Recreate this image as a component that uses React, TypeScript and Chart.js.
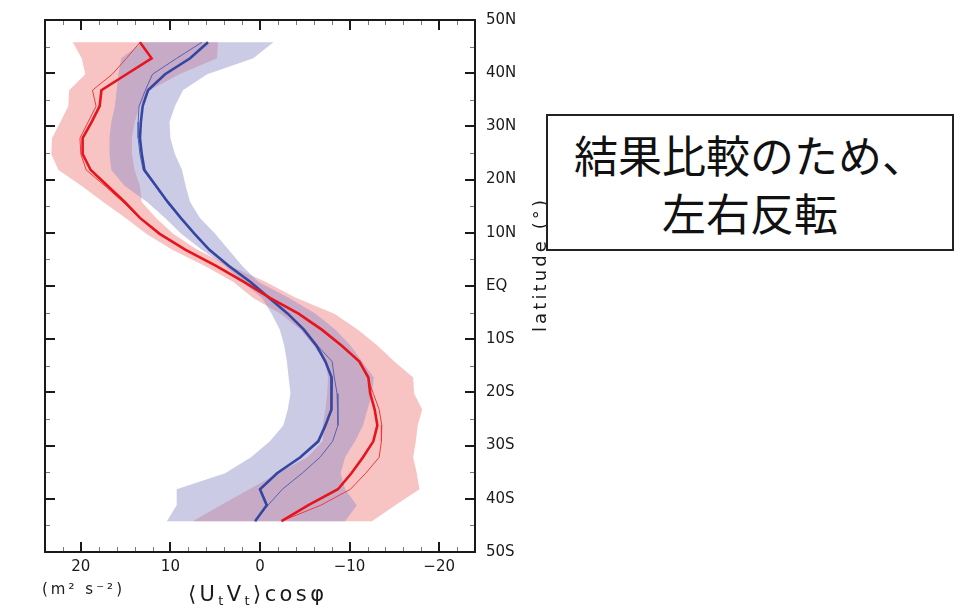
import React, { useEffect, useRef } from 'react';
import { Chart, registerables } from 'chart.js';

Chart.register(...registerables);

// ---- data ----
const latitudes = [45.8, 42.8, 39.8, 36.8, 33.8, 30.8, 27.8, 24.8, 21.8, 18.8, 15.8, 12.8, 9.8, 6.8, 3.8, 0.8, -2.2, -5.2, -8.2, -11.2, -14.2, -17.2, -20.2, -23.2, -26.2, -29.2, -32.2, -35.2, -38.2, -41.2, -44.2];

const redMean = [13.4, 12.1, 14.9, 17.7, 17.9, 18.8, 19.8, 19.8, 18.9, 17.0, 15.1, 13.4, 11.2, 8.3, 4.9, 1.85, -1.06, -4.3, -6.9, -9.1, -11.1, -12.1, -12.3, -12.8, -13.1, -12.65, -11.5, -10.2, -8.7, -5.4, -2.4];
const redThin = [13.4, 14.9, 16.5, 18.7, 18.3, 19.2, 20.1, 20.0, 19.4, 17.3, 15.3, 13.5, 11.2, 8.3, 4.9, 1.8, -1.0, -4.2, -6.8, -9.0, -11.0, -12.0, -12.65, -13.3, -13.6, -13.55, -13.3, -11.8, -10.1, -6.8, -2.4];
const blueMean = [5.8, 7.8, 10.6, 12.5, 13.1, 13.3, 13.4, 13.2, 12.9, 11.6, 10.3, 8.85, 7.3, 5.65, 3.5, 1.1, -1.0, -3.1, -4.9, -6.3, -7.3, -8.0, -8.0, -7.95, -7.3, -6.5, -4.5, -1.9, 0.0, -0.75, 0.55];
const blueThin = [6.5, 9.3, 12.0, 12.8, 13.5, 13.6, 13.6, 13.4, 13.05, 11.7, 10.4, 8.9, 7.3, 5.6, 3.5, 1.1, -1.0, -3.1, -4.9, -6.4, -8.05, -8.3, -8.6, -8.7, -8.7, -8.1, -6.7, -4.7, -2.5, -0.9, 0.55];

const redSpreadHigh = [20.9, 19.9, 19.5, 21.3, 21.4, 22.3, 23.2, 23.3, 22.5, 19.9, 17.5, 15.0, 12.7, 9.8, 6.2, 3.0, 0.8, -2.3, -4.5, -6.0, -7.3, -7.6, -7.5, -7.3, -7.0, -7.0, -5.3, -2.0, 1.2, 4.4, 7.5];
const redSpreadLow = [4.7, 4.8, 9.0, 12.3, 13.4, 14.0, 14.3, 14.3, 14.0, 13.4, 13.2, 11.6, 9.7, 7.0, 3.4, -0.6, -4.0, -8.3, -10.9, -13.1, -15.0, -17.1, -17.2, -18.1, -17.6, -17.4, -17.1, -17.5, -17.8, -15.1, -12.5];
const blueSpreadHigh = [13.1, 15.5, 15.8, 16.0, 16.2, 16.6, 16.8, 16.8, 16.6, 15.1, 12.6, 10.6, 8.8, 6.5, 3.9, 2.0, -0.2, -1.3, -2.2, -2.7, -3.0, -3.2, -3.4, -3.1, -2.6, -1.1, 1.0, 3.9, 9.3, 9.3, 10.4];
const blueSpreadLow = [-1.5, 0.75, 5.9, 8.6, 9.5, 10.1, 10.0, 9.5, 8.7, 8.3, 7.8, 6.7, 5.0, 3.5, 2.0, 0.2, -3.2, -6.2, -8.4, -10.1, -11.4, -12.7, -12.5, -12.0, -11.5, -10.6, -9.5, -9.0, -9.5, -10.8, -9.5];

const xTickValues = [-20, -10, 0, 10, 20];
const yTickValues = [50, 40, 30, 20, 10, 0, -10, -20, -30, -40, -50];

const xTitleChars: [string, boolean][] = [['⟨', false], ['U', false], ['t', true], ['V', false], ['t', true], ['⟩', false], ['c', false], ['o', false], ['s', false], ['φ', false]];
const unitText = '(m² s⁻²)';
const yTitleText = 'latitude (°)';
const noteLines = ['結果比較のため、', '左右反転'];

// ---- helpers ----
const profile = (vals: number[]) => vals.map((v, i) => ({ x: v, y: latitudes[i] }));
const band = (lo: number[], hi: number[]) => [...profile(lo), ...profile(hi).reverse()];

const FONT = '"DejaVu Sans", sans-serif';

function drawSpaced(ctx: CanvasRenderingContext2D, chars: [string, boolean][], cx: number, cy: number, size: number, total: number) {
  const widths = chars.map(([c, sub]) => {
    ctx.font = `${sub ? Math.round(size * 0.62) : size}px ${FONT}`;
    return ctx.measureText(c).width;
  });
  const natural = widths.reduce((a, b) => a + b, 0);
  const gap = chars.length > 1 ? Math.max(0, (total - natural) / (chars.length - 1)) : 0;
  let x = cx - (natural + gap * (chars.length - 1)) / 2;
  ctx.textAlign = 'left';
  ctx.textBaseline = 'middle';
  chars.forEach(([c, sub], i) => {
    ctx.font = `${sub ? Math.round(size * 0.62) : size}px ${FONT}`;
    ctx.fillText(c, x, sub ? cy + size * 0.28 : cy);
    x += widths[i] + gap;
  });
}

const framePlugin = {
  id: 'frameTicks',
  afterDatasetsDraw(chart: any) {
    const { ctx, chartArea } = chart;
    const { left, right, top, bottom } = chartArea;
    const xs = chart.scales.x;
    const ys = chart.scales.y;
    const seg = (x1: number, y1: number, x2: number, y2: number) => {
      ctx.beginPath();
      ctx.moveTo(x1, y1);
      ctx.lineTo(x2, y2);
      ctx.stroke();
    };
    ctx.save();
    // minor ticks
    ctx.strokeStyle = '#777';
    ctx.lineWidth = 1;
    for (let v = -24; v <= 24; v += 2) {
      if (v % 10 === 0) continue;
      const p = Math.round(xs.getPixelForValue(v)) + 0.5;
      seg(p, top, p, top + 5);
      seg(p, bottom, p, bottom - 5);
    }
    for (let v = -45; v <= 45; v += 10) {
      const p = Math.round(ys.getPixelForValue(v)) + 0.5;
      seg(left, p, left + 5, p);
      seg(right, p, right - 5, p);
    }
    // major ticks
    ctx.strokeStyle = '#1a1a1a';
    ctx.lineWidth = 2;
    for (const v of xTickValues) {
      const p = Math.round(xs.getPixelForValue(v));
      seg(p, top, p, top + 10);
      seg(p, bottom, p, bottom - 10);
    }
    for (const v of yTickValues) {
      const p = Math.round(ys.getPixelForValue(v));
      seg(left, p, left + 10, p);
      seg(right, p, right - 10, p);
    }
    ctx.lineWidth = 2;
    ctx.strokeRect(left, top, right - left, bottom - top);

    // titles
    ctx.fillStyle = '#1a1a1a';
    drawSpaced(ctx, xTitleChars, 256, 596, 21, 136);
    drawSpaced(ctx, unitText.split('').map((c) => [c, false] as [string, boolean]), 82, 590, 15, 80);
    ctx.save();
    ctx.translate(541, 266);
    ctx.rotate(-Math.PI / 2);
    drawSpaced(ctx, yTitleText.split('').map((c) => [c, false] as [string, boolean]), 0, 0, 18, 132);
    ctx.restore();
    ctx.restore();
  },
};

export default function App() {
  const canvasRef = useRef<HTMLCanvasElement | null>(null);

  useEffect(() => {
    const canvas = canvasRef.current;
    if (!canvas) return;
    const lineDs = (label: string, vals: number[], color: string, width: number, order: number) => ({
      label,
      data: profile(vals),
      borderColor: color,
      backgroundColor: color,
      borderWidth: width,
      pointRadius: 0,
      pointHoverRadius: 0,
      fill: false,
      tension: 0,
      order,
    });
    const chart = new Chart(canvas, {
      type: 'line',
      data: {
        datasets: [
          {
            label: 'red spread',
            data: band(redSpreadLow, redSpreadHigh),
            borderColor: 'rgba(0,0,0,0)',
            borderWidth: 0,
            backgroundColor: 'rgba(240,122,122,0.45)',
            pointRadius: 0,
            fill: 'shape',
            order: 10,
          },
          {
            label: 'blue spread',
            data: band(blueSpreadLow, blueSpreadHigh),
            borderColor: 'rgba(0,0,0,0)',
            borderWidth: 0,
            backgroundColor: 'rgba(140,140,200,0.45)',
            pointRadius: 0,
            fill: 'shape',
            order: 9,
          },
          lineDs('blue member', blueThin, '#5560b0', 1, 5),
          lineDs('red member', redThin, '#ee3a3a', 1, 4),
          lineDs('blue mean', blueMean, '#3446a2', 2.6, 3),
          lineDs('red mean', redMean, '#e8141c', 2.6, 2),
        ] as any,
      },
      options: {
        responsive: false,
        maintainAspectRatio: false,
        animation: false,
        devicePixelRatio: 1,
        layout: { padding: { left: 45, top: 18, right: 0, bottom: 0 } },
        plugins: { legend: { display: false }, tooltip: { enabled: false }, title: { display: false } },
        events: [],
        scales: {
          x: {
            type: 'linear',
            reverse: true,
            min: -24,
            max: 24,
            position: 'bottom',
            grid: { display: false, drawTicks: false },
            border: { display: false },
            afterBuildTicks: (s: any) => {
              s.ticks = xTickValues.map((v) => ({ value: v }));
            },
            afterFit: (s: any) => {
              s.height = 61;
            },
            ticks: {
              autoSkip: false,
              maxRotation: 0,
              padding: 6,
              color: '#1a1a1a',
              font: { family: FONT, size: 15 },
              callback: (v: any) => (Number(v) < 0 ? '−' + Math.abs(Number(v)) : String(v)),
            },
          },
          y: {
            type: 'linear',
            min: -50,
            max: 50,
            position: 'right',
            grid: { display: false, drawTicks: false },
            border: { display: false },
            afterBuildTicks: (s: any) => {
              s.ticks = yTickValues.map((v) => ({ value: v }));
            },
            afterFit: (s: any) => {
              s.width = 125;
            },
            ticks: {
              autoSkip: false,
              padding: 11,
              color: '#1a1a1a',
              font: { family: FONT, size: 15 },
              callback: (v: any) => {
                const n = Number(v);
                if (n === 0) return 'EQ';
                return n > 0 ? `${n}N` : `${-n}S`;
              },
            },
          },
        },
      },
      plugins: [framePlugin],
    } as any);
    return () => chart.destroy();
  }, []);

  return (
    <div style={{ position: 'absolute', left: 0, top: 0, width: 955, height: 613, background: '#fff', overflow: 'hidden' }}>
      <canvas ref={canvasRef} width={600} height={613} style={{ position: 'absolute', left: 0, top: 0, width: 600, height: 613 }} />
      <div
        style={{
          position: 'absolute',
          left: 546,
          top: 114,
          width: 408,
          height: 137,
          boxSizing: 'border-box',
          border: '2px solid #222',
          background: '#fff',
          display: 'flex',
          flexDirection: 'column',
          alignItems: 'center',
          justifyContent: 'center',
          fontFamily: '"Noto Sans CJK JP", sans-serif',
          fontSize: 44,
          lineHeight: '58px',
          color: '#111',
        }}
      >
        {noteLines.map((l) => (
          <div key={l}>{l}</div>
        ))}
      </div>
    </div>
  );
}
